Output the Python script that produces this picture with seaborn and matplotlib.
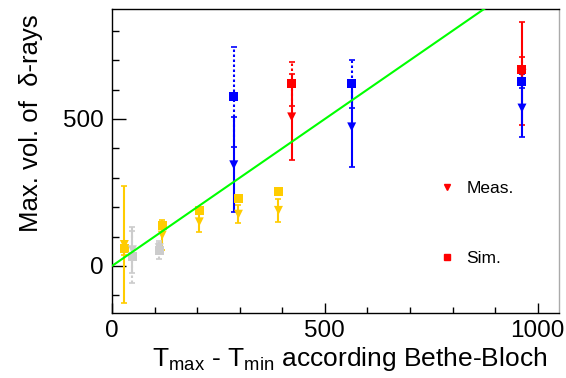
import numpy as np
import pandas as pd
import matplotlib
matplotlib.use("Agg")
import matplotlib.pyplot as plt
import seaborn as sns
from matplotlib.lines import Line2D
from matplotlib.ticker import MultipleLocator

# ---------------- data ----------------
yellow_x = [29, 118, 205, 297, 391]
yellow_meas = [73, 105, 150, 176, 189]
yellow_meas_err = [199, 50, 34, 31, 39]
yellow_sim = [61, 139, 187, 231, 252]
yellow_sim_err = [25, 10, 10, 8, 8]

gray_x = [48, 111]
gray_meas = [55, 62]
gray_meas_err = [78, 16]
gray_sim = [31, 54]
gray_sim_err = [89, 30]

red_x = [422, 963]
red_meas = [507, 655]
red_meas_err = [146, 175]
red_sim = [619, 667]
red_sim_err = [75, 44]

blue_x = [286, 563, 963]
blue_meas = [344, 473, 537]
blue_meas_err = [162, 136, 98]
blue_sim = [575, 619, 629]
blue_sim_err = [170, 81, 24]

line_x = [0, 1000]
line_y = [0, 1000]

groups = {
    "yellow": (yellow_x, yellow_meas, yellow_meas_err, yellow_sim, yellow_sim_err),
    "gray": (gray_x, gray_meas, gray_meas_err, gray_sim, gray_sim_err),
    "red": (red_x, red_meas, red_meas_err, red_sim, red_sim_err),
    "blue": (blue_x, blue_meas, blue_meas_err, blue_sim, blue_sim_err),
}
colors = {"yellow": "#FFCC00", "gray": "#CCCCCC", "red": "#FF0000", "blue": "#0000FF"}

rows = []
for g, (xs, m, me, s, se) in groups.items():
    for i in range(len(xs)):
        rows.append(dict(group=g, kind="Meas.", x=xs[i], y=m[i], err=me[i]))
        rows.append(dict(group=g, kind="Sim.", x=xs[i], y=s[i], err=se[i]))
df = pd.DataFrame(rows)

# ---------------- style ----------------
sns.set_theme(style="white")
plt.rcParams["font.family"] = ["Liberation Sans", "DejaVu Sans"]
plt.rcParams["mathtext.fontset"] = "custom"
plt.rcParams["mathtext.rm"] = "Liberation Sans"
plt.rcParams["mathtext.it"] = "Liberation Sans"

fig = plt.figure(figsize=(5.66, 3.78), dpi=100)
ax = fig.add_axes([112 / 566, 1 - 313 / 378, 447 / 566, 304 / 378])

# error bars and markers
for g in ["yellow", "gray", "red", "blue"]:
    c = colors[g]
    sub = df[(df.group == g) & (df.kind == "Sim.")]
    eb = ax.errorbar(sub.x, sub.y, yerr=sub.err, fmt="none", ecolor=c,
                     elinewidth=1.5, capsize=2, capthick=1.2, zorder=2)
    for lc in eb[2]:
        lc.set_linestyle((0, (1.2, 1.2)))
    sub = df[(df.group == g) & (df.kind == "Meas.")]
    ax.errorbar(sub.x, sub.y, yerr=sub.err, fmt="none", ecolor=c,
                elinewidth=1.5, capsize=2, capthick=1.2, zorder=2)

    sns.scatterplot(data=df[df.group == g], x="x", y="y", style="kind",
                    markers={"Meas.": "v", "Sim.": "s"},
                    s=42, color=c, edgecolor="none", linewidth=0,
                    legend=False, ax=ax, zorder=3)

# diagonal line
sns.lineplot(x=line_x, y=line_y, color="#00FF00", linewidth=1.5, ax=ax, zorder=4)

ax.set_xlim(0, 1050)
ax.set_ylim(-160, 874)

ax.xaxis.set_major_locator(MultipleLocator(500))
ax.xaxis.set_minor_locator(MultipleLocator(100))
ax.yaxis.set_major_locator(MultipleLocator(500))
ax.yaxis.set_minor_locator(MultipleLocator(100))

ax.tick_params(axis="x", which="major", direction="in", length=7, width=1,
               color="black", labelsize=17.5, pad=5, bottom=True, top=False)
ax.tick_params(axis="x", which="minor", direction="in", length=4, width=1,
               color="black", bottom=True, top=False)
ax.tick_params(axis="y", which="major", direction="in", length=10, width=1,
               color="black", labelsize=17.5, pad=6, left=True, right=False)
ax.tick_params(axis="y", which="minor", direction="in", length=5, width=1,
               color="black", left=True, right=False)
for lab in ax.get_xticklabels() + ax.get_yticklabels():
    lab.set_color("black")

for side in ["left", "bottom", "top"]:
    ax.spines[side].set_color("black")
    ax.spines[side].set_linewidth(1)
ax.spines["right"].set_color("#AAAAAA")
ax.spines["right"].set_linewidth(1)

ax.set_xlabel(r"T$_{\rm max}$ - T$_{\rm min}$ according Bethe-Bloch",
              fontsize=19, color="black")
ax.set_ylabel("Max. vol. of  δ-rays", fontsize=18.5, color="black")
ax.xaxis.set_label_coords(0.532, -0.105)
ax.yaxis.set_label_coords(-0.155, 0.625)

handles = [
    Line2D([], [], marker="v", linestyle="none", color="#FF0000", markersize=5),
    Line2D([], [], marker="s", linestyle="none", color="#FF0000", markersize=4.5),
]
leg = ax.legend(handles, ["Meas.", "Sim."], frameon=False, fontsize=12.5,
                loc="upper left", bbox_to_anchor=(0.731, 0.436),
                handlelength=1.0, handletextpad=0.6, labelspacing=3.2,
                borderpad=0, borderaxespad=0)
for t in leg.get_texts():
    t.set_color("black")

fig.savefig("out.png", dpi=100)
